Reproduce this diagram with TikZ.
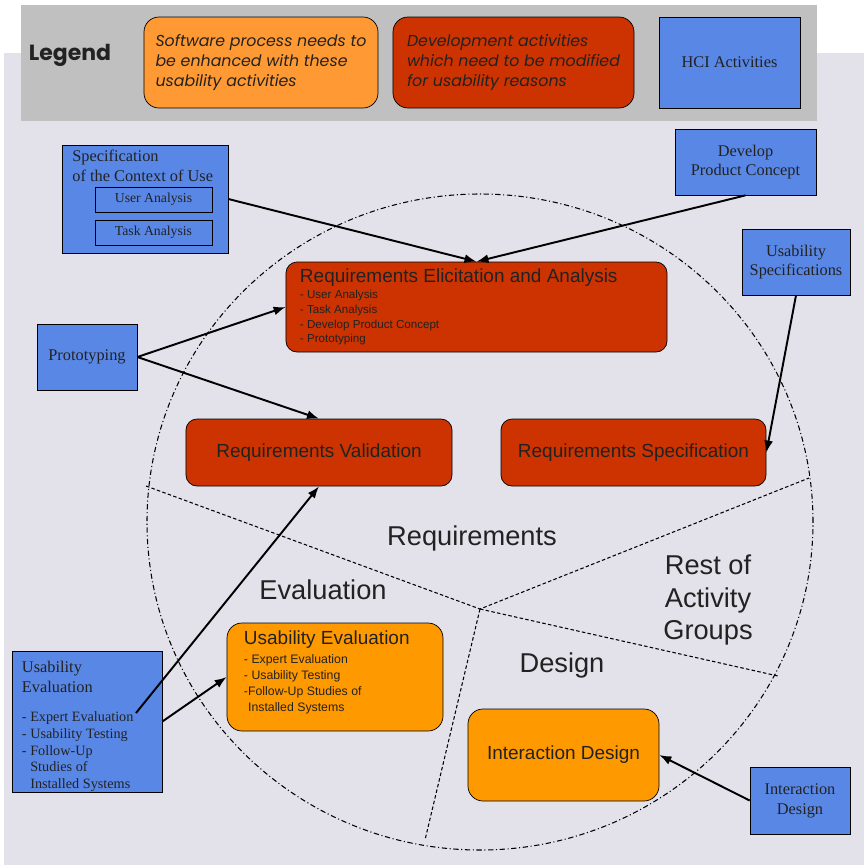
\documentclass[tikz,border=0pt]{standalone}
\usepackage{fontspec}
\setmainfont{Liberation Serif}
\setsansfont{Liberation Sans}
\newfontfamily\legendfont{Poppins}
\usetikzlibrary{positioning}
\usetikzlibrary{arrows.meta}
\usepackage{xcolor}
\definecolor{pagebg}{RGB}{227,225,234}
\definecolor{legendbg}{RGB}{192,192,192}
\definecolor{enhance}{RGB}{255,153,51}
\definecolor{devred}{RGB}{204,51,0}
\definecolor{usaorange}{RGB}{255,153,0}
\definecolor{hciblue}{RGB}{89,135,230}
\definecolor{inktext}{RGB}{34,34,34}

\begin{document}
\begin{tikzpicture}[x=0.2mm, y=-0.2mm,
    hcibox/.style={draw, rectangle, fill=hciblue, text=inktext, align=center, inner sep=0pt, font=\fontsize{9.3}{11.3}\selectfont},
    devbox/.style={draw, rectangle, rounded corners=2.2mm, fill=devred, text=inktext, inner sep=0pt, font=\sffamily\fontsize{10.8}{13}\selectfont},
    usabox/.style={devbox, rounded corners=3mm, fill=usaorange},
    legbox/.style={draw, rectangle, rounded corners=3mm, text=inktext, align=left, inner sep=0pt, minimum height=18.2mm, font=\legendfont\itshape\fontsize{9}{11.3}\selectfont},
    region/.style={text=inktext, align=center, font=\sffamily\fontsize{15.5}{18.7}\selectfont},
    feed/.style={-{Latex[length=2.4mm,width=1.8mm]}, line width=1.1pt},
    divider/.style={dash pattern=on 2pt off 1.3pt, line width=0.6pt}]
    % page and legend band
    \useasboundingbox (0,0) rectangle (864,865);
    \fill[pagebg] (4,53) rectangle (864,865);
    \fill[legendbg] (21,5) rectangle (817,121);

    \node[text=inktext, font=\legendfont\bfseries\fontsize{12.5}{15}\selectfont] (legend) at (70,55) {Legend};
    \node[legbox, fill=enhance, minimum width=46.8mm] (enhanced) at (261,62.5) {Software process needs to\\be enhanced with these\\usability activities};
    \node[legbox, fill=devred, minimum width=48.2mm] (modified) at (513.5,62.5) {Development activities\\which need to be modified\\for usability reasons};
    \node[hcibox, minimum width=28.2mm, minimum height=18.2mm] (hcikey) at (729.5,62.5) {HCI Activities};

    % activity groups circle
    \draw[line width=0.6pt, dash pattern=on 3pt off 1.5pt on 0.6pt off 1.5pt] (480,522) ellipse [x radius=66.6mm, y radius=65.6mm];
    \coordinate (hub) at (480,609);
    \coordinate (reqleft) at (146,486);
    \coordinate (reqright) at (809,478);
    \coordinate (restlow) at (778,676);
    \coordinate (evalow) at (425,840);
    \draw[divider] (reqleft) -- (hub) -- (reqright);
    \draw[divider] (hub) -- (restlow);
    \draw[divider] (hub) -- (evalow);

    \node[region] (requirements) at (472,538) {Requirements};
    \node[region] (evaluation) at (323,590) {Evaluation};
    \node[region] (rest) at (708,600) {Rest of\\Activity\\Groups};
    \node[region] (design) at (562,665) {Design};

    % HCI activities
    \node[hcibox, minimum width=33.2mm, minimum height=21.6mm] (context) at (145,199) {};
    \node[anchor=west, align=left, text=inktext, inner sep=0pt, font=\fontsize{9.3}{11.3}\selectfont] (contexttitle) at (72,166) {Specification\\of the Context of Use};
    \node[hcibox, minimum width=23.4mm, minimum height=5mm, font=\fontsize{7.8}{9}\selectfont] (useran) at (153.5,199.5) {User Analysis};
    \node[hcibox, minimum width=23.4mm, minimum height=5mm, font=\fontsize{7.8}{9}\selectfont] (taskan) at (153.5,232.5) {Task Analysis};
    \node[hcibox, minimum width=28.2mm, minimum height=13.2mm] (develop) at (745.5,162) {Develop\\Product Concept};
    \node[hcibox, minimum width=21.6mm, minimum height=13.2mm] (usabspec) at (796,262) {Usability\\Specifications};
    \node[hcibox, minimum width=20mm, minimum height=13.2mm] (proto) at (87,357) {Prototyping};
    \node[hcibox, align=flush left, text width=26mm, inner xsep=2mm, minimum height=28.2mm, font=\fontsize{8.1}{9.4}\selectfont] (evalhci) at (87,721.5)
        {{\fontsize{9.3}{11.3}\selectfont\rule{0pt}{12pt}Usability\\[1.6pt]Evaluation}\\[7.5pt]- Expert Evaluation\\- Usability Testing\\- Follow-Up\\\hphantom{- }Studies of\\\hphantom{- }Installed Systems};
    \node[hcibox, minimum width=20mm, minimum height=13.4mm] (designhci) at (800,800.5) {Interaction\\Design};

    % development and usability activities
    \node[devbox, align=flush left, text width=70.6mm, inner xsep=2.8mm, minimum height=18mm, font=\sffamily\fontsize{6.6}{8.5}\selectfont] (reqelic) at (476.5,307)
        {{\fontsize{10.8}{13}\selectfont Requirements Elicitation and Analysis}\\[0.5pt]- User Analysis\\- Task Analysis\\- Develop Product Concept\\- Prototyping};
    \node[devbox, align=center, minimum width=53.2mm, minimum height=13.4mm] (reqval) at (319,452.5) {Requirements Validation};
    \node[devbox, align=center, minimum width=53mm, minimum height=13.4mm] (reqspec) at (633.5,452.5) {Requirements Specification};
    \node[usabox, align=flush left, text width=36.4mm, inner xsep=3.4mm, minimum height=21.6mm, font=\sffamily\fontsize{7}{9}\selectfont] (usabeval) at (335,677)
        {{\fontsize{10.8}{13}\selectfont Usability Evaluation}\\[2pt]- Expert Evaluation\\- Usability Testing\\-Follow-Up Studies of\\\hphantom{-}Installed Systems\rule[-7pt]{0pt}{1pt}};
    \node[usabox, align=center, minimum width=38.2mm, minimum height=18.4mm] (intdesign) at (563.5,755) {Interaction Design};

    \draw[feed] (context.east) -- (reqelic.north);
    \draw[feed] (develop.south) -- (reqelic.north);
    \draw[feed] (usabspec.south) -- (reqspec.east);
    \draw[feed] (proto.east) -- (reqelic.west);
    \draw[feed] (proto.east) -- (reqval.north);
    \coordinate (expertend) at (136,713);
    \draw[feed] (expertend) -- (reqval.south);
    \draw[feed] (evalhci.east) -- (usabeval.west);
    \draw[feed] (designhci.west) -- (intdesign.east);
\end{tikzpicture}
\end{document}
